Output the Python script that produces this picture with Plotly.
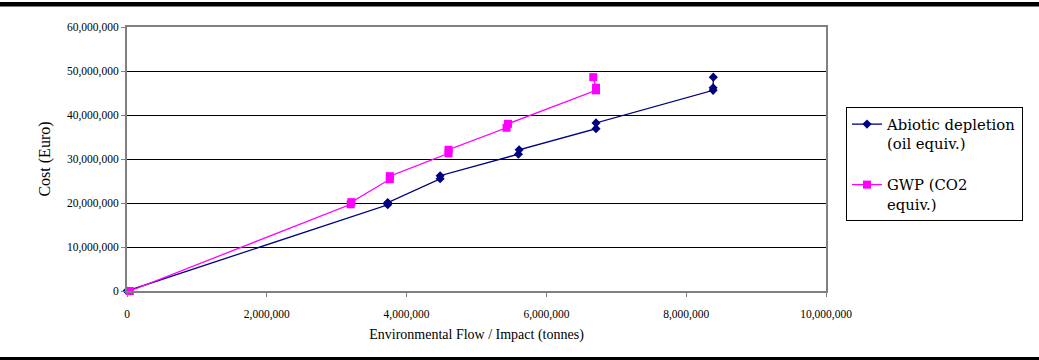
import plotly.graph_objects as go

# Data
abiotic_x = [0, 3730000, 3730000, 4480000, 4480000, 5600000, 5610000, 6710000, 6710000, 8385000, 8385000, 8388000]
abiotic_y = [0, 19600000, 20100000, 25500000, 26200000, 31100000, 32100000, 36900000, 38200000, 45600000, 46200000, 48600000]

gwp_x = [40000, 3200000, 3210000, 3760000, 3760000, 4600000, 4600000, 5430000, 5450000, 6710000, 6710000, 6670000]
gwp_y = [0, 19700000, 20200000, 25400000, 26100000, 31300000, 32100000, 37100000, 38000000, 45600000, 46200000, 48600000]

x_ticks = [0, 2000000, 4000000, 6000000, 8000000, 10000000]
y_ticks = [0, 10000000, 20000000, 30000000, 40000000, 50000000, 60000000]

SERIF = "'Liberation Serif', 'Times New Roman', serif"
LEGEND_FONT = "'DejaVu Serif', serif"

fig = go.Figure()
fig.add_trace(go.Scatter(
    x=abiotic_x, y=abiotic_y, mode="lines+markers",
    name="Abiotic depletion<br>(oil equiv.)", legendgroup="a",
    line=dict(color="#000080", width=1.3),
    marker=dict(symbol="diamond", size=7, color="#000080"),
    cliponaxis=False,
))
fig.add_trace(go.Scatter(
    x=gwp_x, y=gwp_y, mode="lines+markers",
    name="GWP (CO2<br>equiv.)", legendgroup="b",
    line=dict(color="#FF00FF", width=1.3),
    marker=dict(symbol="square", size=8, color="#FF00FF"),
    cliponaxis=False,
))

W, H = 1039, 360
L, R, T, B = 127, 826, 27, 291
pw, ph = R - L, B - T

def px_x(p):
    return (p - L) / pw

def px_y(p):
    return (B - p) / ph

fig.update_layout(
    width=W, height=H,
    margin=dict(l=L, r=W - R, t=T, b=H - B),
    paper_bgcolor="white", plot_bgcolor="white",
    font=dict(family=SERIF, color="black", size=12),
    showlegend=True,
    legend=dict(
        x=px_x(846), y=px_y(107), xanchor="left", yanchor="top",
        bordercolor="black", borderwidth=1,
        font=dict(family=LEGEND_FONT, size=14.8, color="black"),
        valign="top", traceorder="grouped", tracegroupgap=19,
        bgcolor="white",
    ),
    xaxis=dict(
        range=[0, 10000000], tickvals=x_ticks, tickformat=",",
        showgrid=False, zeroline=False,
        showline=True, linecolor="#808080", linewidth=2, mirror=True,
        ticks="outside", ticklen=4, tickcolor="#808080",
        tickfont=dict(family=SERIF, size=11.5),
        ticklabelstandoff=7,
        title=dict(text="Environmental Flow / Impact (tonnes)",
                   font=dict(family=SERIF, size=14), standoff=9),
    ),
    yaxis=dict(
        range=[0, 60000000], tickvals=y_ticks, tickformat=",",
        showgrid=True, gridcolor="black", gridwidth=1, zeroline=False,
        showline=True, linecolor="#808080", linewidth=2, mirror=True,
        ticks="outside", ticklen=4, tickcolor="#808080",
        tickfont=dict(family=SERIF, size=11.5),
        title=dict(text="Cost (Euro)",
                   font=dict(family=SERIF, size=16), standoff=12),
    ),
    shapes=[
        dict(type="rect", xref="paper", yref="paper",
             x0=px_x(0), x1=px_x(W), y0=px_y(6.5), y1=px_y(2),
             fillcolor="black", line=dict(width=0), layer="above"),
        dict(type="rect", xref="paper", yref="paper",
             x0=px_x(0), x1=px_x(W), y0=px_y(361), y1=px_y(357),
             fillcolor="black", line=dict(width=0), layer="above"),
    ],
)

fig.write_html("out.html")
